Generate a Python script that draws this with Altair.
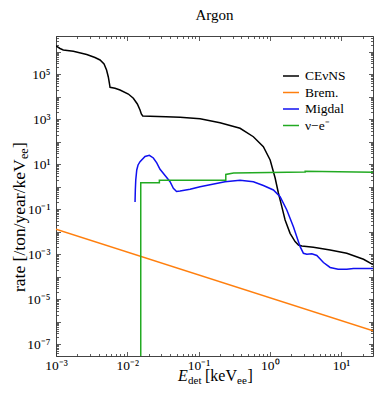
import math
import altair as alt
import pandas as pd

FONT = "Liberation Serif"

# ---------------- data ----------------
series_names = ["CEνNS", "Brem.", "Migdal", "ν−e⁻"]
series_colors = ["#000000", "#ff7f0e", "#1010f0", "#22aa22"]

cevns_E = [1.000e-3, 1.138e-3, 1.265e-3, 1.750e-3, 2.70e-3, 3.52e-3, 4.15e-3, 4.72e-3,
           5.12e-3, 5.42e-3, 5.60e-3, 5.73e-3, 6.73e-3, 7.91e-3, 1.035e-2, 1.216e-2,
           1.384e-2, 1.51e-2, 1.574e-2, 1.648e-2, 2.08e-2, 3.50e-2, 5.50e-2, 0.105,
           0.200, 0.382, 0.587, 0.811, 1.01, 1.186, 1.318, 1.472, 1.637, 1.923, 2.26,
           2.52, 2.81, 4.08, 7.01, 12.0, 20.6, 28.0]
cevns_R = [1.80e6, 1.39e6, 1.20e6, 1.05e6, 7.55e5, 5.55e5, 4.30e5, 2.86e5,
           1.55e5, 7.55e4, 4.08e4, 2.63e4, 2.38e4, 2.00e4, 1.32e4, 8.53e3,
           4.76e3, 2.58e3, 1.71e3, 1.39e3, 1.37e3, 1.30e3, 1.22e3, 1.06e3,
           7.03e2, 3.96e2, 1.67e2, 59.7, 15.5, 2.45, 0.525, 0.130, 0.0333, 8.5e-3, 3.63e-3,
           2.58e-3, 2.33e-3, 2.04e-3, 1.55e-3, 1.10e-3, 5.97e-4, 3.5e-4]

brem_E = [1.0e-3, 28.0]
brem_R = [1.28e-2, 4.0e-7]

migdal_E = [1.285e-2, 1.297e-2, 1.315e-2, 1.358e-2, 1.416e-2, 1.51e-2, 1.774e-2, 2.04e-2,
            2.32e-2, 2.59e-2, 2.88e-2, 3.39e-2, 3.98e-2, 4.43e-2, 4.91e-2, 5.50e-2,
            7.60e-2, 0.105, 0.235, 0.382, 0.587, 0.811, 1.122, 1.393, 1.73, 2.14, 2.66,
            2.96, 3.30, 3.88, 4.56, 5.65, 7.01, 9.08, 12.0, 14.9, 23.0, 28.0]
migdal_R = [0.210, 0.718, 2.00, 5.55, 9.27, 13.0, 22.1, 25.0,
            19.0, 11.4, 5.97, 3.16, 1.67, 0.853, 0.615, 0.647,
            0.771, 1.00, 1.67, 1.94, 1.67, 1.14, 0.718, 0.361, 0.0927, 0.0167, 2.17e-3,
            1.10e-3, 9.95e-4, 1.05e-3, 8.79e-4, 4.30e-4, 2.58e-4, 2.14e-4, 2.14e-4, 2.33e-4, 2.33e-4, 2.33e-4]

nue_E = [0.01545, 0.01545, 0.0282, 0.0282, 0.241, 0.241, 0.31, 3.13, 3.13, 28.0]
nue_R = [1e-10, 1.51, 1.51, 1.94, 1.94, 3.5, 4.1, 4.5, 4.9, 4.4]

x_major = [1e-3, 1e-2, 1e-1, 1.0, 10.0]
x_labels = ["10⁻³", "10⁻²", "10⁻¹", "10⁰", "10¹"]
y_major = [1e-7, 1e-5, 1e-3, 1e-1, 1e1, 1e3, 1e5]
y_labels = ["10⁻⁷", "10⁻⁵", "10⁻³", "10⁻¹", "10¹", "10³", "10⁵"]

X_DOMAIN = [1e-3, 28.0]
Y_DOMAIN = [3e-8, 5e6]

# ---------------- table ----------------
rows = []
for name, E, R in zip(series_names, [cevns_E, brem_E, migdal_E, nue_E],
                      [cevns_R, brem_R, migdal_R, nue_R]):
    for i, (e, r) in enumerate(zip(E, R)):
        rows.append({"series": name, "E": e, "R": r, "i": i})
df = pd.DataFrame(rows)

x_decades = [10.0 ** k for k in range(-3, 2)]
x_minor = [m * 10.0 ** k for k in range(-3, 2) for m in range(2, 10) if m * 10.0 ** k <= X_DOMAIN[1]]
y_decades = [10.0 ** k for k in range(-7, 7)]
y_minor = [m * 10.0 ** k for k in range(-8, 7) for m in range(2, 10)
           if Y_DOMAIN[0] <= m * 10.0 ** k <= Y_DOMAIN[1]]


def label_expr(vals, labels):
    parts = [f"abs(log(datum.value)/LN10 - ({math.log10(v):.3f})) < 0.01 ? '{l}'"
             for v, l in zip(vals, labels)]
    return " : ".join(parts) + " : ''"


xs = alt.Scale(type="log", domain=X_DOMAIN, nice=False)
ys = alt.Scale(type="log", domain=Y_DOMAIN, nice=False)
TICK = "#333333"

base = alt.Chart(df)

lines = base.mark_line(strokeWidth=1.5, clip=True).encode(
    x=alt.X("E:Q", scale=xs, axis=alt.Axis(
        orient="bottom", values=x_major, labelExpr=label_expr(x_major, x_labels),
        ticks=False, domain=False, grid=False, title=None, labelFont=FONT,
        labelFontSize=13.5, labelColor="black", labelPadding=2, labelFlush=False,
        labelOverlap=False)),
    y=alt.Y("R:Q", scale=ys, axis=alt.Axis(
        orient="left", values=y_major, labelExpr=label_expr(y_major, y_labels),
        ticks=False, domain=False, grid=False, title=None, labelFont=FONT,
        labelFontSize=13.5, labelColor="black", labelPadding=6, labelFlush=False,
        labelOverlap=False)),
    color=alt.Color("series:N", scale=alt.Scale(domain=series_names, range=series_colors),
                    legend=alt.Legend(orient="none", legendX=226, legendY=31, title=None,
                                      symbolType="stroke", symbolSize=256, symbolStrokeWidth=1.5,
                                      labelFont=FONT, labelFontSize=13.5, labelColor="black",
                                      labelOffset=5, rowPadding=0.5, padding=0)),
    order=alt.Order("i:Q"),
)


def tick_layer(xorient, yorient, xvals, yvals, size):
    return base.mark_point(opacity=0, clip=True).encode(
        x=alt.X("E:Q", scale=xs, axis=alt.Axis(
            orient=xorient, values=xvals, labels=False, ticks=True, tickSize=size,
            offset=-size, domain=False, grid=False, title=None, tickColor=TICK, tickWidth=0.8)),
        y=alt.Y("R:Q", scale=ys, axis=alt.Axis(
            orient=yorient, values=yvals, labels=False, ticks=True, tickSize=size,
            offset=-size, domain=False, grid=False, title=None, tickColor=TICK, tickWidth=0.8)),
    )


one = pd.DataFrame({"t": [0]})


def text_piece(txt, x, y, size, angle=0, italic=False, align="left"):
    kw = dict(text=txt, font=FONT, fontSize=size, align=align, baseline="alphabetic",
              color="black", angle=angle)
    if italic:
        kw["fontStyle"] = "italic"
    return alt.Chart(one).mark_text(**kw).encode(x=alt.value(x), y=alt.value(y))


titles = [
    # chart title
    text_piece("Argon", 158.5, -16, 15, align="center"),
    # x title: E_det [keV_ee]
    text_piece("E", 122, 345, 16, italic=True),
    text_piece("det", 132, 348, 11),
    text_piece("[keV", 149, 345, 16),
    text_piece("ee", 181, 348, 11),
    text_piece("]", 191.5, 345, 16),
    # y title: rate [/ton/year/keV_ee]
    text_piece("rate [/ton/year/keV", -31, 256, 17.5, angle=270),
    text_piece("ee", -28, 123, 12, angle=270),
    text_piece("]", -31, 112, 17.5, angle=270),
]

chart = alt.layer(
    lines,
    tick_layer("bottom", "left", x_decades, y_decades, 4.5),
    tick_layer("bottom", "left", x_minor, y_minor, 2.5),
    tick_layer("top", "right", x_decades, y_decades, 4.5),
    tick_layer("top", "right", x_minor, y_minor, 2.5),
    *titles,
).resolve_axis(x="independent", y="independent").properties(
    width=317, height=320,
    autosize=alt.AutoSizeParams(type="none"),
    padding={"left": 48, "top": 28, "right": 1, "bottom": 36},
).configure_view(stroke="#444444", strokeWidth=1)

chart.save("out.html", embed_options={"renderer": "svg", "actions": False})
